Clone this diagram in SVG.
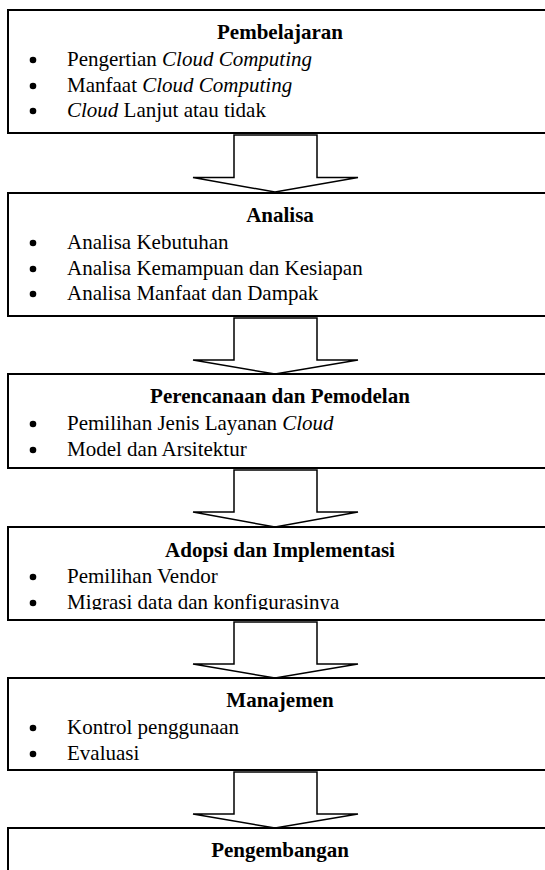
<svg xmlns="http://www.w3.org/2000/svg" width="545" height="870" viewBox="0 0 545 870">
  <style>
    .box { fill: #fff; stroke: #000; stroke-width: 2; }
    .arrow { fill: #fff; stroke: #000; stroke-width: 1.5; stroke-linejoin: miter; }
    .title { font-family: "Liberation Serif", "Times New Roman", serif; font-size: 21px; font-weight: bold; text-anchor: middle; fill: #000; }
    .item { font-family: "Liberation Serif", "Times New Roman", serif; font-size: 21px; fill: #000; }
    .it { font-style: italic; }
    .dot { fill: #000; }
  </style>
  <defs>
    <!-- the last line of the Adopsi box is cut off at its baseline -->
    <clipPath id="clip-adopsi">
      <rect x="0" y="527" width="545" height="83"/>
    </clipPath>
  </defs>
  <rect width="545" height="870" fill="#fff"/>

  <!-- Block arrows between the stages -->
  <g id="connectors">
    <polygon class="arrow" points="234,135 317,135 317,177.5 358,177.5 275,192 193,177.5 234,177.5"/>
    <polygon class="arrow" points="234,318 317,318 317,360 358,360 275,374 193,360 234,360"/>
    <polygon class="arrow" points="234,470 317,470 317,512 358,512 275,527 193,512 234,512"/>
    <polygon class="arrow" points="234,622 317,622 317,664 358,664 275,678 193,664 234,664"/>
    <polygon class="arrow" points="234,772 317,772 317,814 358,814 275,828 193,814 234,814"/>
  </g>

  <g id="pembelajaran">
    <rect class="box" x="8" y="10" width="560" height="123"/>
    <text class="title" x="280" y="39">Pembelajaran</text>
    <circle class="dot" cx="33" cy="60" r="3.3"/>
    <text class="item" x="67" y="66">Pengertian <tspan class="it">Cloud Computing</tspan></text>
    <circle class="dot" cx="33" cy="86" r="3.3"/>
    <text class="item" x="67" y="92">Manfaat <tspan class="it">Cloud Computing</tspan></text>
    <circle class="dot" cx="33" cy="111" r="3.3"/>
    <text class="item" x="67" y="117"><tspan class="it">Cloud</tspan> Lanjut atau tidak</text>
  </g>

  <g id="analisa">
    <rect class="box" x="8" y="193" width="560" height="123"/>
    <text class="title" x="280" y="222">Analisa</text>
    <circle class="dot" cx="33" cy="243" r="3.3"/>
    <text class="item" x="67" y="249">Analisa Kebutuhan</text>
    <circle class="dot" cx="33" cy="269" r="3.3"/>
    <text class="item" x="67" y="275">Analisa Kemampuan dan Kesiapan</text>
    <circle class="dot" cx="33" cy="294" r="3.3"/>
    <text class="item" x="67" y="300">Analisa Manfaat dan Dampak</text>
  </g>

  <g id="perencanaan">
    <rect class="box" x="8" y="374" width="560" height="94"/>
    <text class="title" x="280" y="403">Perencanaan dan Pemodelan</text>
    <circle class="dot" cx="33" cy="424" r="3.3"/>
    <text class="item" x="67" y="430">Pemilihan Jenis Layanan <tspan class="it">Cloud</tspan></text>
    <circle class="dot" cx="33" cy="450" r="3.3"/>
    <text class="item" x="67" y="456">Model dan Arsitektur</text>
  </g>

  <g id="adopsi">
    <rect class="box" x="8" y="527" width="560" height="93"/>
    <text class="title" x="280" y="557">Adopsi dan Implementasi</text>
    <circle class="dot" cx="33" cy="577" r="3.3"/>
    <text class="item" x="67" y="583">Pemilihan Vendor</text>
    <circle class="dot" cx="33" cy="603" r="3.3"/>
    <text class="item" x="67" y="609" clip-path="url(#clip-adopsi)">Migrasi data dan konfigurasinya</text>
  </g>

  <g id="manajemen">
    <rect class="box" x="8" y="678" width="560" height="92"/>
    <text class="title" x="280" y="707">Manajemen</text>
    <circle class="dot" cx="33" cy="728" r="3.3"/>
    <text class="item" x="67" y="734">Kontrol penggunaan</text>
    <circle class="dot" cx="33" cy="754" r="3.3"/>
    <text class="item" x="67" y="760">Evaluasi</text>
  </g>

  <g id="pengembangan">
    <rect class="box" x="8" y="828" width="560" height="60"/>
    <text class="title" x="280" y="857">Pengembangan</text>
  </g>
</svg>
